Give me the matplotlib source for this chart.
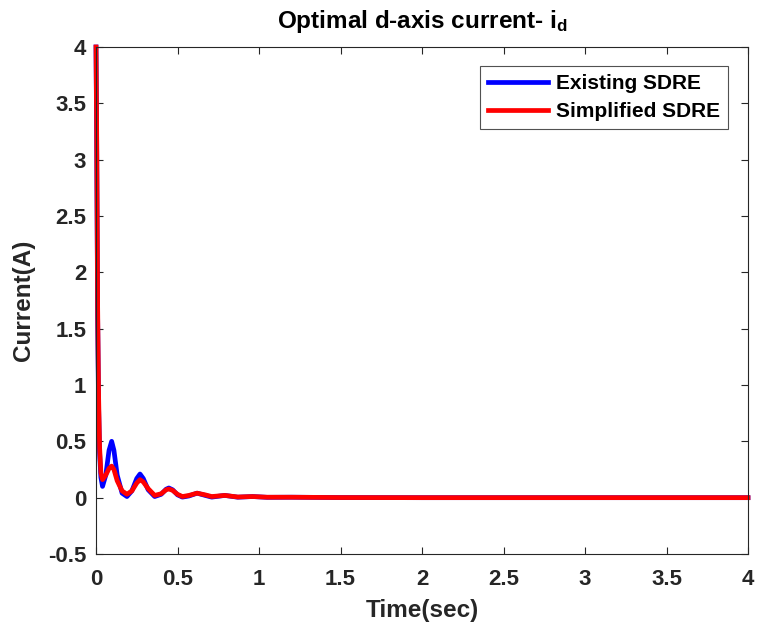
import matplotlib
matplotlib.use('Agg')
import matplotlib.pyplot as plt

plt.rcParams['font.family'] = ['Liberation Sans', 'DejaVu Sans']
plt.rcParams['font.weight'] = 'bold'
plt.rcParams['mathtext.fontset'] = 'custom'
plt.rcParams['mathtext.rm'] = 'Liberation Sans:bold'
plt.rcParams['mathtext.bf'] = 'Liberation Sans:bold'
plt.rcParams['mathtext.it'] = 'Liberation Sans:bold'

# time samples (sec)
t = [0, 0.004, 0.01, 0.016, 0.022, 0.03, 0.04, 0.06, 0.08, 0.096, 0.11, 0.13, 0.16, 0.19,
     0.22, 0.25, 0.27, 0.29, 0.32, 0.36, 0.40, 0.43, 0.447, 0.47, 0.50, 0.53,
     0.57, 0.62, 0.67, 0.71, 0.79, 0.87, 0.96, 1.05, 1.2, 1.5, 2.0, 4.0]

existing = [4.0, 3.2, 1.6, 0.8, 0.4, 0.18, 0.1, 0.2, 0.42, 0.5, 0.42, 0.2, 0.04, 0.01,
            0.06, 0.17, 0.21, 0.17, 0.07, 0.01, 0.03, 0.075, 0.086, 0.07, 0.025, 0.005,
            0.015, 0.04, 0.02, 0.005, 0.02, 0.004, 0.01, 0.003, 0.004, 0.001, 0.0, 0.0]

simplified = [4.0, 3.3, 1.7, 0.9, 0.45, 0.22, 0.16, 0.2, 0.26, 0.28, 0.25, 0.15, 0.06, 0.03,
              0.06, 0.13, 0.16, 0.14, 0.08, 0.02, 0.035, 0.07, 0.077, 0.065, 0.03, 0.01,
              0.02, 0.04, 0.025, 0.01, 0.02, 0.006, 0.01, 0.004, 0.004, 0.001, 0.0, 0.0]

fig = plt.figure(figsize=(7.57, 6.33), dpi=100)
ax = fig.add_axes([96 / 757, 1 - 554 / 633, (748 - 96) / 757, (554 - 47) / 633])

ax.plot(t, existing, color='#0000ff', lw=3.4, label='Existing SDRE', clip_on=False)
ax.plot(t, simplified, color='#ff0000', lw=3.4, label='Simplified SDRE', clip_on=False)

ax.set_xlim(0, 4)
ax.set_ylim(-0.5, 4)
ax.set_xticks([0, 0.5, 1, 1.5, 2, 2.5, 3, 3.5, 4])
ax.set_xticklabels(['0', '0.5', '1', '1.5', '2', '2.5', '3', '3.5', '4'])
ax.set_yticks([-0.5, 0, 0.5, 1, 1.5, 2, 2.5, 3, 3.5, 4])
ax.set_yticklabels(['-0.5', '0', '0.5', '1', '1.5', '2', '2.5', '3', '3.5', '4'])
ax.tick_params(direction='in', length=5, width=0.8, labelsize=16, colors='#262626',
               top=True, right=True)
ax.tick_params(axis='x', pad=11)
ax.tick_params(axis='y', pad=7)
for s in ax.spines.values():
    s.set_color('#262626')
    s.set_linewidth(0.8)

ax.set_xlabel('Time(sec)', fontsize=17.5, fontweight='bold', color='#262626', labelpad=6)
ax.set_ylabel('Current(A)', fontsize=17.5, fontweight='bold', color='#262626', labelpad=9)
ax.set_title(r'Optimal d-axis current- i$_{\mathbf{d}}$', fontsize=17.5, fontweight='bold', pad=14)

leg = ax.legend(loc='upper right', bbox_to_anchor=(728 / 757, 1 - 66 / 633),
                bbox_transform=fig.transFigure, borderaxespad=0, fontsize=15,
                fancybox=False, edgecolor='#262626', handlelength=2.9, handletextpad=0.35,
                borderpad=0.4, labelspacing=0.42)
leg.get_frame().set_linewidth(0.8)
for line in leg.get_lines():
    line.set_linewidth(3.4)

fig.savefig('out.png', dpi=100)
